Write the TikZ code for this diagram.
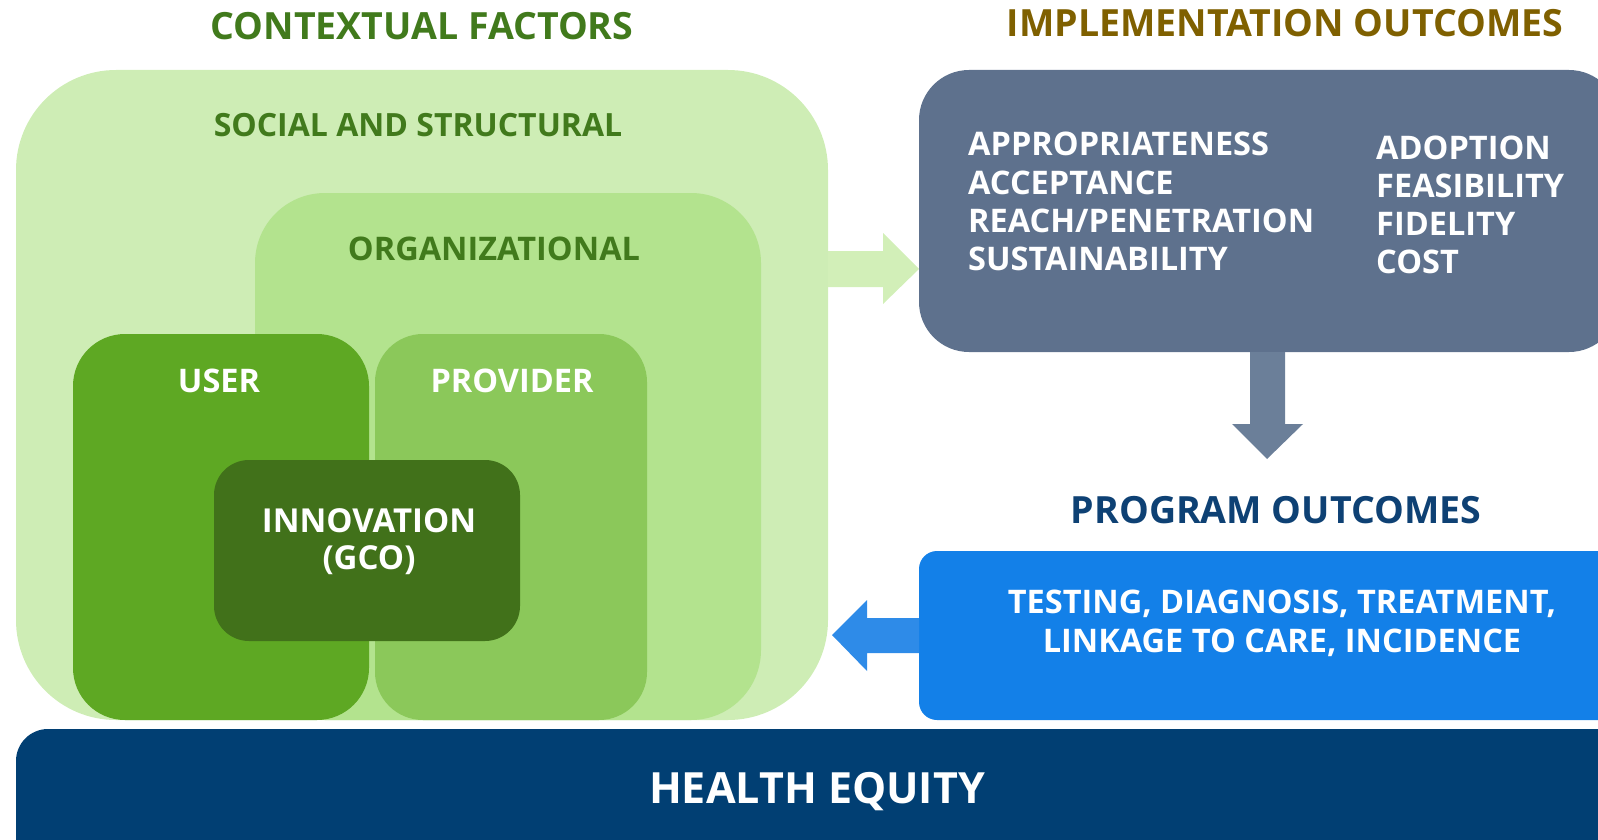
\documentclass[tikz,border=0pt]{standalone}
\usepackage{fontspec}
\setmainfont{Open Sans}
\definecolor{cgreen}{HTML}{417A1C}
\definecolor{cgold}{HTML}{7F6000}
\definecolor{cnavytxt}{HTML}{0E4174}
\definecolor{socfill}{HTML}{CEEDB5}
\definecolor{orgfill}{HTML}{B3E38E}
\definecolor{userfill}{HTML}{5EA823}
\definecolor{provfill}{HTML}{8BC85A}
\definecolor{innofill}{HTML}{41711A}
\definecolor{implfill}{HTML}{5E718D}
\definecolor{implarrow}{HTML}{6B7F99}
\definecolor{progfill}{HTML}{1380E8}
\definecolor{progarrow}{HTML}{2E8BE8}
\definecolor{greenarrow}{HTML}{D2EFB8}
\definecolor{equityfill}{HTML}{013F73}
\begin{document}
\begin{tikzpicture}[x=1pt,y=-1pt,
  panel/.style 2 args={rounded corners=#1, fill=#2, draw=none, inner sep=0pt, outer sep=0pt, anchor=north west},
  ttl/.style={font=\bfseries\fontsize{37.5}{44}\selectfont, inner sep=0pt, anchor=base},
  lbl/.style={font=\bfseries\fontsize{32.5}{38}\selectfont, inner sep=0pt, anchor=base},
  lst/.style={font=\bfseries\fontsize{32.5}{38}\selectfont, inner sep=0pt, anchor=base west, text=white}]
\useasboundingbox (0,0) rectangle (1598,840);
\clip (0,0) rectangle (1598,840);
% titles
\node[ttl, text=cgreen] (tctx) at (422,40) {CONTEXTUAL FACTORS};
\node[ttl, text=cgold] (timpl) at (1285,37) {IMPLEMENTATION OUTCOMES};
% contextual boxes
\node[panel={100pt}{socfill}, minimum width=812pt, minimum height=650pt] (soc) at (16,70) {};
\node[panel={70pt}{orgfill}, minimum width=506pt, minimum height=527pt] (org) at (255,193) {};
\node[panel={52pt}{userfill}, minimum width=296pt, minimum height=386pt] (user) at (73,334) {};
\node[panel={48pt}{provfill}, minimum width=272pt, minimum height=386pt] (prov) at (375,334) {};
\node[panel={35pt}{innofill}, minimum width=306pt, minimum height=181pt] (inno) at (214,460) {};
\node[lbl, text=cgreen, font=\bfseries\fontsize{32}{38}\selectfont] (lsoc) at (418,136) {SOCIAL AND STRUCTURAL};
\node[lbl, text=cgreen] (lorg) at (494,260) {ORGANIZATIONAL};
\node[lbl, text=white] (luser) at (219,392) {USER};
\node[lbl, text=white] (lprov) at (512,392) {PROVIDER};
\node[lbl, text=white, font=\bfseries\fontsize{33}{38}\selectfont] (linno1) at (369,532) {INNOVATION};
\node[lbl, text=white, font=\bfseries\fontsize{33}{38}\selectfont] (linno2) at (369,569) {(GCO)};
% implementation outcomes
\node[panel={50pt}{implfill}, minimum width=700pt, minimum height=282pt] (impl) at (919,70) {};
\node[lst] (i1) at (968,156) {APPROPRIATENESS};
\node[lst] (i2) at (968,194) {ACCEPTANCE};
\node[lst] (i3) at (968,232) {REACH/PENETRATION};
\node[lst] (i4) at (968,270) {SUSTAINABILITY};
\node[lst] (i5) at (1376,159) {ADOPTION};
\node[lst] (i6) at (1376,197) {FEASIBILITY};
\node[lst] (i7) at (1376,235) {FIDELITY};
\node[lst] (i8) at (1376,273) {COST};
% program outcomes
\node[ttl, text=cnavytxt] (tprog) at (1276,523) {PROGRAM OUTCOMES};
\node[panel={18pt}{progfill}, minimum width=700pt, minimum height=169pt] (prog) at (919,551) {};
\node[lbl, text=white] (p1) at (1282,613) {TESTING, DIAGNOSIS, TREATMENT,};
\node[lbl, text=white] (p2) at (1282,652) {LINKAGE TO CARE, INCIDENCE};
% health equity
\node[panel={32pt}{equityfill}, minimum width=1620pt, minimum height=160pt] (eq) at (16,729) {};
\node[font=\bfseries\fontsize{43}{50}\selectfont, inner sep=0pt, anchor=base, text=white] (leq) at (817,803) {HEALTH EQUITY};
% block arrows
\fill[greenarrow] (soc.east |- 0,251) -- (883,251) -- (883,233) -- (impl.west |- 0,269) -- (883,304) -- (883,287) -- (soc.east |- 0,287) -- cycle;
\fill[implarrow] (1250,0 |- impl.south) -- (1250,424) -- (1232,424) -- (1267,459) -- (1303,424) -- (1285,424) -- (1285,0 |- impl.south) -- cycle;
\fill[progarrow] (prog.west |- 0,618) -- (867,618) -- (867,600) -- (832,635) -- (867,671) -- (867,653) -- (prog.west |- 0,653) -- cycle;
\end{tikzpicture}
\end{document}
